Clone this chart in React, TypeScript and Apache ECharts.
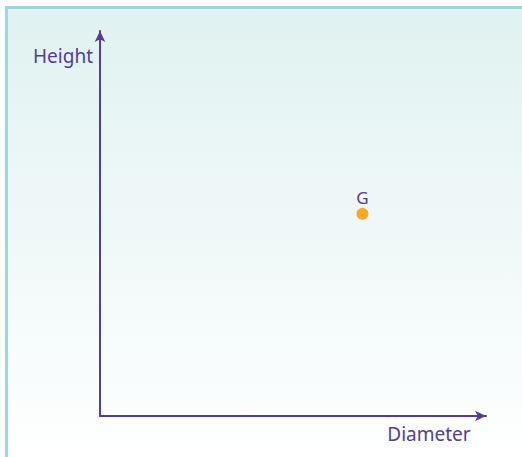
import React, { useEffect, useRef } from "react";
import * as echarts from "echarts";

const pointNames = ["G"];
const diameterValues = [6.8];
const heightValues = [5.25];
const xAxisName = "Diameter";
const yAxisName = "Height";

const PURPLE = "#553c9a";
const ORANGE = "#f9a825";
const FONT = "Noto Sans";

export default function App() {
  const ref = useRef<HTMLDivElement>(null);
  useEffect(() => {
    if (!ref.current) return;
    const chart = echarts.init(ref.current, undefined, { renderer: "svg" });
    const data = pointNames.map((n, i) => ({ name: n, value: [diameterValues[i], heightValues[i]] }));
    chart.setOption({
      animation: false,
      graphic: [
        {
          type: "rect",
          z: -10,
          silent: true,
          shape: { x: 6.5, y: 7.5, width: 530, height: 452 },
          style: {
            fill: new echarts.graphic.LinearGradient(0, 0, 0, 1, [
              { offset: 0, color: "#e0f2f1" },
              { offset: 1, color: "#ffffff" },
            ]),
            stroke: "#9dd6df",
            lineWidth: 3,
          },
        },
      ],
      grid: { left: 100, top: 31, right: 36, bottom: 41 },
      xAxis: {
        type: "value",
        min: 0,
        max: 10,
        name: xAxisName,
        nameLocation: "end",
        nameGap: -57,
        nameTextStyle: {
          color: PURPLE,
          fontFamily: FONT,
          fontSize: 19,
          align: "center",
          verticalAlign: "top",
          padding: [8, 0, 0, 0],
        },
        axisLine: {
          show: true,
          symbol: ["none", "arrow"],
          symbolSize: [8, 11],
          lineStyle: { color: PURPLE, width: 2 },
        },
        axisTick: { show: false },
        axisLabel: { show: false },
        splitLine: { show: false },
      },
      yAxis: {
        type: "value",
        min: 0,
        max: 10,
        name: yAxisName,
        nameLocation: "end",
        nameGap: -25,
        nameTextStyle: {
          color: PURPLE,
          fontFamily: FONT,
          fontSize: 19,
          align: "right",
          verticalAlign: "middle",
          padding: [0, 7, 0, 0],
        },
        axisLine: {
          show: true,
          symbol: ["none", "arrow"],
          symbolSize: [8, 11],
          lineStyle: { color: PURPLE, width: 2 },
        },
        axisTick: { show: false },
        axisLabel: { show: false },
        splitLine: { show: false },
      },
      series: [
        {
          type: "scatter",
          data,
          symbolSize: 12,
          itemStyle: { color: ORANGE, opacity: 1 },
          label: {
            show: true,
            position: "top",
            distance: 2,
            formatter: "{b}",
            color: PURPLE,
            fontFamily: FONT,
            fontSize: 17,
          },
        },
      ],
    });
    return () => chart.dispose();
  }, []);
  return (
    <div style={{ position: "fixed", left: 0, top: 0, width: 522, height: 457, background: "#fff" }}>
      <div ref={ref} style={{ width: 522, height: 457 }} />
    </div>
  );
}
